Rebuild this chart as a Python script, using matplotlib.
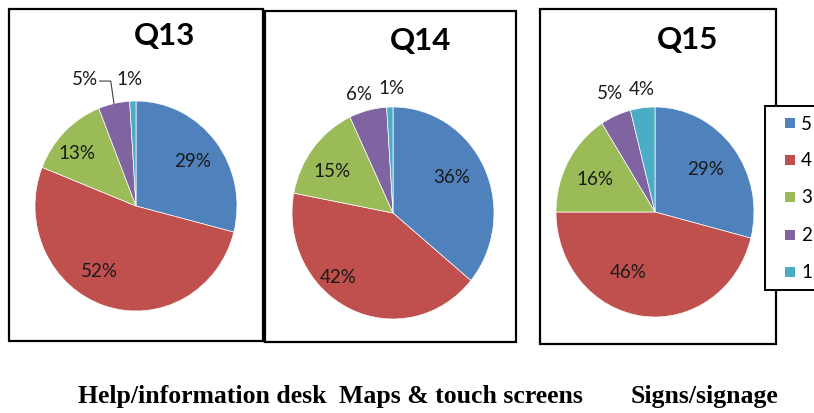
import matplotlib
matplotlib.use("Agg")
import matplotlib.pyplot as plt
from matplotlib.patches import Rectangle
import numpy as np

# ---------------- data ----------------
ratings = ["5", "4", "3", "2", "1"]
titles = ["Q13", "Q14", "Q15"]
captions = ["Help/information desk", "Maps & touch screens", "Signs/signage"]
q13 = [29, 52, 13, 5, 1]
q14 = [36, 42, 15, 6, 1]
q15 = [29, 46, 16, 5, 4]
series = [q13, q14, q15]

colors = ["#4F81BD", "#C0504D", "#9BBB59", "#8064A2", "#4BACC6"]

W, H = 814, 414
fig = plt.figure(figsize=(W / 100, H / 100), dpi=100)
fig.patch.set_facecolor("white")

LABEL_FONT = ["Lato", "DejaVu Sans"]


def fx(x):
    return x / W


def fy(y):
    return 1 - y / H


# ---------------- layout (pixels) ----------------
panel_boxes = [(9, 10, 263, 342), (265, 12, 516, 343), (540, 10, 776, 345)]
pie_geom = [(136, 207, 101, 105), (393, 214, 101, 106), (655, 213, 99, 105)]
title_pos = [(165, 36), (421, 41), (688, 40)]
caption_x = [202, 461, 704]
# label positions in pie-normalized units (per slice)
label_pos = [
    [(0.56, 0.43), (-0.36, -0.61), (-0.58, 0.51), (-0.51, 1.21), (-0.06, 1.21)],
    [(0.58, 0.34), (-0.54, -0.60), (-0.60, 0.40), (-0.34, 1.13), (-0.01, 1.18)],
    [(0.51, 0.41), (-0.27, -0.57), (-0.61, 0.32), (-0.45, 1.14), (-0.13, 1.18)],
]

# panel frames
for (x0, y0, x1, y1) in panel_boxes:
    fig.patches.append(Rectangle((fx(x0), fy(y1)), fx(x1) - fx(x0), fy(y0) - fy(y1),
                                 transform=fig.transFigure, fill=False,
                                 edgecolor="black", linewidth=1.6, zorder=0))

for i, vals in enumerate(series):
    cx, cy, rx, ry = pie_geom[i]
    ax = fig.add_axes([fx(cx - rx), fy(cy + ry), 2 * rx / W, 2 * ry / H])
    wedges, _ = ax.pie(vals, colors=colors, startangle=90, counterclock=False,
                       radius=1, wedgeprops=dict(edgecolor="white", linewidth=0.5))
    ax.set_aspect("auto")
    ax.set_xlim(-1, 1)
    ax.set_ylim(-1, 1)
    ax.axis("off")
    for j, v in enumerate(vals):
        lx, ly = label_pos[i][j]
        ax.text(lx, ly, f"{v}%", ha="center", va="center", fontsize=13.5,
                family=LABEL_FONT, color="#1a1a1a", clip_on=False)
    ax.text(*((np.array(title_pos[i]) - np.array([cx, cy])) / np.array([rx, -ry])),
            titles[i], ha="center", va="center", fontsize=22.5, fontweight="bold",
            family=LABEL_FONT, clip_on=False)
    # leader line for the Q13 "5%" label
    if i == 0:
        w = wedges[3]
        mid = np.deg2rad((w.theta1 + w.theta2) / 2)
        ex, ey = np.cos(mid), np.sin(mid)
        lx, ly = label_pos[0][3]
        ax.plot([lx + 0.15, lx + 0.26, ex], [ly - 0.02, ly - 0.02, ey],
                color="#404040", lw=0.8, clip_on=False)

# captions
for x, c in zip(caption_x, captions):
    fig.text(fx(x), fy(397), c, ha="center", va="center", fontsize=18.5,
             fontweight="bold", family="Liberation Serif")

# legend (box partially beyond the right edge, as in the reference)
lx0, ly0, ly1 = 765, 107, 291
fig.patches.append(Rectangle((fx(lx0), fy(ly1)), fx(900) - fx(lx0), fy(ly0) - fy(ly1),
                             transform=fig.transFigure, fill=True, facecolor="white",
                             edgecolor="black", linewidth=1.4, zorder=5))
entry_y = [124, 161, 198, 236, 273]
for k, (lab, col) in enumerate(zip(ratings, colors)):
    y = entry_y[k]
    fig.patches.append(Rectangle((fx(785), fy(y + 5)), 10 / W, 10 / H,
                                 transform=fig.transFigure, facecolor=col,
                                 edgecolor="none", zorder=6))
    fig.text(fx(801), fy(y), lab, ha="left", va="center", fontsize=13.5,
             family=LABEL_FONT, zorder=7)

fig.savefig("out.png", dpi=100)
